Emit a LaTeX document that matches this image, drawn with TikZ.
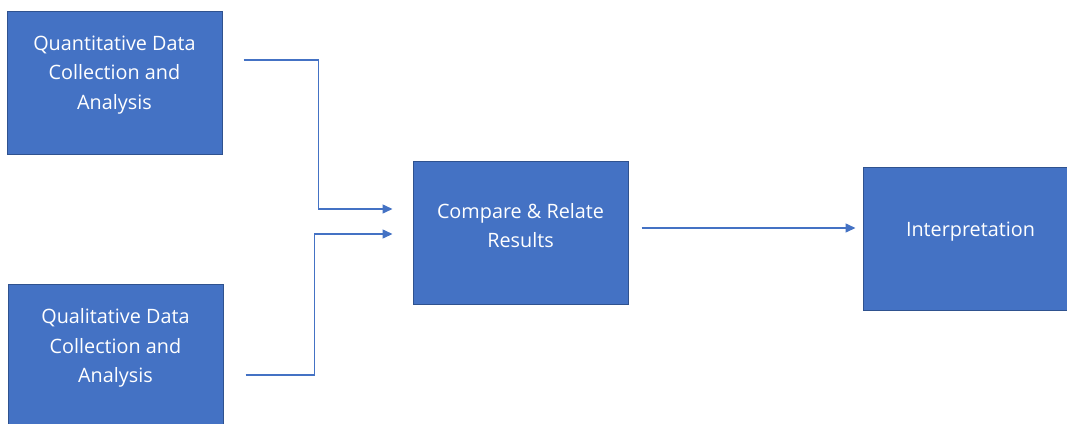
\documentclass[tikz,border=0pt]{standalone}
\usepackage{fontspec}
\setmainfont{Open Sans}
\usetikzlibrary{arrows.meta}

\definecolor{officeblue}{HTML}{4472C4}
\definecolor{officeedge}{HTML}{2F528F}

\begin{document}
\begin{tikzpicture}[x=1pt, y=-1pt,
	box/.style={draw=officeedge, line width=1pt, fill=officeblue, minimum width=215pt, minimum height=143pt, inner sep=0pt},
	boxtext/.style={text=white, align=center, font=\fontsize{19.8}{29.5}\selectfont, yshift=7.5pt},
	flow/.style={draw=officeblue, line width=1.5pt, arrows={-Triangle[length=10pt,width=9pt]}}]
	\useasboundingbox (0,0) rectangle (1067,423);

	\node [box, label={[boxtext]center:Quantitative Data\\Collection and\\Analysis}] (qnt) at (114.5,82.5) {};
	\node [box, label={[boxtext]center:Qualitative Data\\Collection and\\Analysis}] (qlt) at (115.5,355.5) {};

	\node [box, label={[boxtext]center:Compare \& Relate\\Results}] (cmp) at (520.5,233) {};
	\node [box, label={[boxtext]center:Interpretation}] (intp) at (970.5,239) {};

	\draw [flow] ([shift={(21,-22.5)}]qnt.east) -- ++(75,0) |- ([shift={(-20,-24)}]cmp.west);
	\draw [flow] ([shift={(22,19.5)}]qlt.east) -- ++(69,0) |- ([shift={(-20,1)}]cmp.west);
	\draw [flow] ([shift={(13,-5)}]cmp.east) -- ([shift={(-7,-11)}]intp.west);

\end{tikzpicture}
\end{document}
